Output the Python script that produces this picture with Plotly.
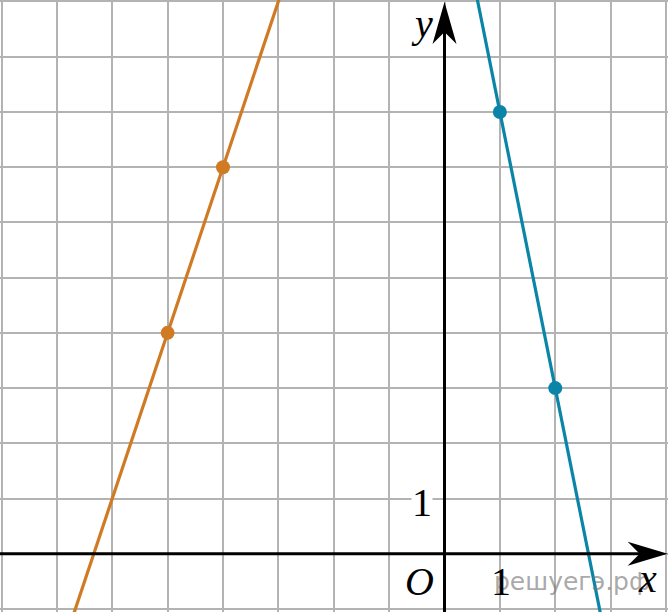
import plotly.graph_objects as go

# two straight lines, each through two marked points
orange_line_x = [-7, -2.5]
orange_line_y = [-2, 11.5]
orange_pts_x = [-5, -4]
orange_pts_y = [4, 7]

blue_line_x = [0.4, 3]
blue_line_y = [11, -2]
blue_pts_x = [1, 2]
blue_pts_y = [8, 3]

x_range = [-8.027, 4.036]
y_range = [-1.054, 10.027]

ORANGE = '#d07a24'
BLUE = '#0a85a8'

# pixels per unit, used to size the arrow heads
px_x = 668 / (x_range[1] - x_range[0])
px_y = 612 / (y_range[1] - y_range[0])


def arrow_x(tip):
    l, n, w = 40 / px_x, 28 / px_x, 12 / px_y
    return 'M {},0 L {},{} L {},0 L {},{} Z'.format(tip, tip - l, w, tip - n, tip - l, -w)


def arrow_y(tip):
    l, n, w = 42 / px_y, 30 / px_y, 12 / px_x
    return 'M 0,{} L {},{} L 0,{} L {},{} Z'.format(tip, w, tip - l, tip - n, -w, tip - l)


fig = go.Figure()

fig.add_trace(go.Scatter(x=orange_line_x, y=orange_line_y, mode='lines',
                         line=dict(color=ORANGE, width=3.2), hoverinfo='skip'))
fig.add_trace(go.Scatter(x=blue_line_x, y=blue_line_y, mode='lines',
                         line=dict(color=BLUE, width=3.2), hoverinfo='skip'))
fig.add_trace(go.Scatter(x=orange_pts_x, y=orange_pts_y, mode='markers',
                         marker=dict(color=ORANGE, size=14)))
fig.add_trace(go.Scatter(x=blue_pts_x, y=blue_pts_y, mode='markers',
                         marker=dict(color=BLUE, size=14)))

# axes with arrows
fig.add_shape(type='line', x0=x_range[0], y0=0, x1=3.9, y1=0,
              line=dict(color='black', width=3))
fig.add_shape(type='line', x0=0, y0=y_range[0], x1=0, y1=9.9,
              line=dict(color='black', width=3))
fig.add_shape(type='path', path=arrow_x(4.03), fillcolor='black', line=dict(width=0))
fig.add_shape(type='path', path=arrow_y(9.99), fillcolor='black', line=dict(width=0))

fig.add_annotation(x=2.30, y=-0.50, text='решуегэ.рф', showarrow=False,
                   font=dict(family='DejaVu Sans', size=25, color='rgba(120,120,120,0.65)'))

serif = 'Liberation Serif'
labels = [
    (-0.41, 9.60, '<i>y</i>', 40, None),
    (3.66, -0.44, '<i>x</i>', 40, None),
    (-0.45, -0.50, '<i>O</i>', 40, None),
    (-0.41, 0.92, '1', 40, 'white'),
    (1.02, -0.50, '1', 40, None),
]
for x, y, text, size, bg in labels:
    fig.add_annotation(x=x, y=y, text=text, showarrow=False,
                       font=dict(family=serif, size=size, color='black'),
                       bgcolor=bg, borderpad=0)

fig.update_xaxes(range=x_range, dtick=1, tick0=0, showgrid=True, gridcolor='#b3b3b3',
                 gridwidth=2, zeroline=False, showticklabels=False, ticks='', showline=False)
fig.update_yaxes(range=y_range, dtick=1, tick0=0, showgrid=True, gridcolor='#b3b3b3',
                 gridwidth=2, zeroline=False, showticklabels=False, ticks='', showline=False)

fig.update_layout(width=668, height=612, margin=dict(l=0, r=0, t=0, b=0),
                  plot_bgcolor='white', paper_bgcolor='white', showlegend=False)

# drop the page's default body margin so the chart fills the window
fig.write_html('out.html', config={'displayModeBar': False},
               post_script="document.body.style.margin='0';")
